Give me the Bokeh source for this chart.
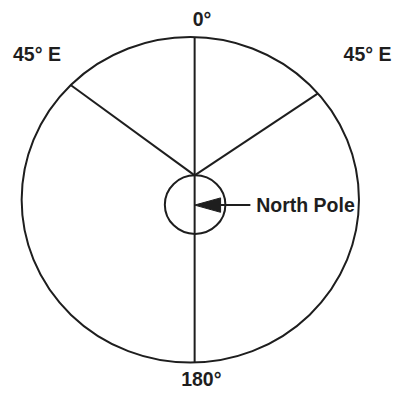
from bokeh.plotting import figure
from bokeh.models import Range1d
from bokeh.embed import file_html
from bokeh.resources import INLINE
from bokeh.core.properties import value

# Diagram geometry (reference pixel units, y grows downward)
outer_center = (197.5, 207.5)
outer_size = (351, 339)
pole_center = (202.5, 212.5)
pole_size = (63, 61)
hub = (202, 182)
spoke_ends_x = [73, 330]
spoke_ends_y = [88, 97]
meridian_x = 202
meridian_y = [38, 377]

labels = ["0°", "45° E", "45° E", "180°"]
label_x = [200, 13, 357, 188]
label_y = [30.3, 67.3, 67.3, 405]   # bottom of text box

pole_label = "North Pole"
arrow_tip = (202, 213)
arrow_back_x = 229
arrow_half = 7.5
arrow_line_end = 260
pole_label_pos = (266, 224.3)

ink = "#1e1e1e"
font_px = "19.5px"

p = figure(width=395, height=390, output_backend="svg", toolbar_location=None,
           x_range=Range1d(0, 411), y_range=Range1d(406, 0),
           min_border=0, outline_line_color=None)
p.axis.visible = False
p.grid.visible = False
p.background_fill_color = "white"
p.border_fill_color = "white"

p.ellipse(x=[outer_center[0]], y=[outer_center[1]], width=outer_size[0], height=outer_size[1],
          fill_color=None, line_color=ink, line_width=2)
p.ellipse(x=[pole_center[0]], y=[pole_center[1]], width=pole_size[0], height=pole_size[1],
          fill_color=None, line_color=ink, line_width=2)

p.segment(x0=[meridian_x], y0=[meridian_y[0]], x1=[meridian_x], y1=[meridian_y[1]],
          line_color=ink, line_width=2)
p.segment(x0=[hub[0]] * 2, y0=[hub[1]] * 2, x1=spoke_ends_x, y1=spoke_ends_y,
          line_color=ink, line_width=2)

# Arrow toward the pole
p.segment(x0=[arrow_back_x], y0=[arrow_tip[1]], x1=[arrow_line_end], y1=[arrow_tip[1]],
          line_color=ink, line_width=2)
p.patch(x=[arrow_tip[0], arrow_back_x, arrow_back_x],
        y=[arrow_tip[1], arrow_tip[1] - arrow_half, arrow_tip[1] + arrow_half],
        fill_color=ink, line_color=ink, line_width=1)

p.text(x=label_x, y=label_y, text=labels, text_font=value("Liberation Sans"),
       text_font_style="bold", text_font_size=font_px, text_color=ink,
       text_align="left", text_baseline="bottom")
p.text(x=[pole_label_pos[0]], y=[pole_label_pos[1]], text=[pole_label],
       text_font=value("Liberation Sans"), text_font_style="bold",
       text_font_size=font_px, text_color=ink,
       text_align="left", text_baseline="bottom")

open("out.html", "w").write(file_html(p, INLINE))
